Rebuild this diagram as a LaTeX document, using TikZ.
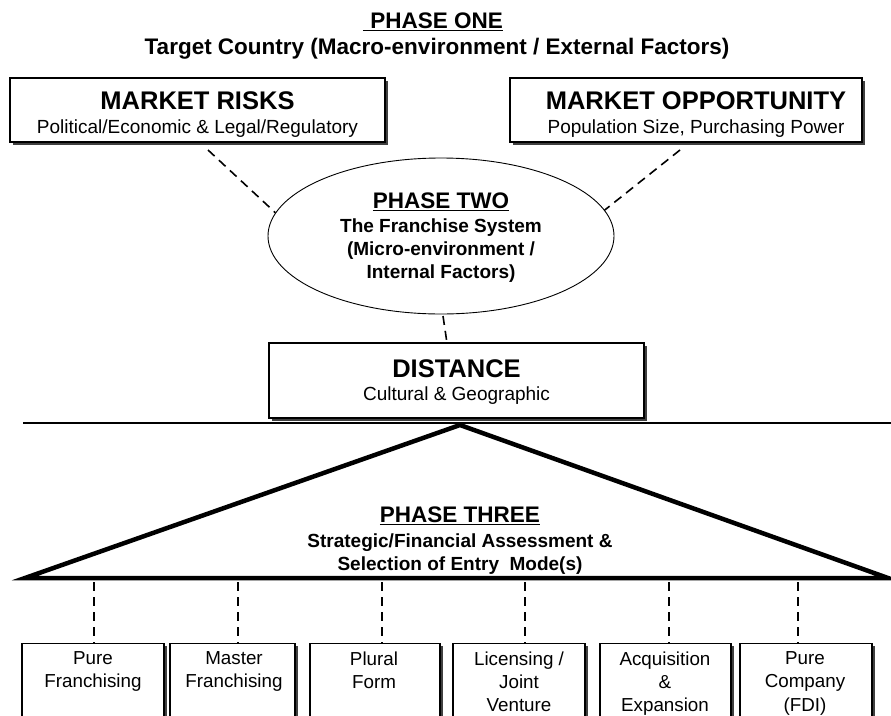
\documentclass[tikz,border=0pt]{standalone}
\usepackage{fontspec}
\setmainfont{Liberation Sans}
\usetikzlibrary{shapes.geometric,shadows}
\begin{document}
\begin{tikzpicture}[x=1pt,y=-1pt,
  shadowbox/.style={draw=black,line width=1.4pt,fill=white,
    drop shadow={shadow xshift=2.5pt,shadow yshift=-2.5pt,fill=black!75,opacity=1}},
  topbox/.style={shadowbox,minimum height=64pt,inner sep=0pt},
  modebox/.style={shadowbox,minimum height=110pt,anchor=north,inner sep=0pt},
  link/.style={line width=1.6pt,dash pattern=on 9pt off 6pt},
  big/.style={font=\fontsize{25.5}{28}\selectfont\bfseries},
  head/.style={font=\fontsize{22.5}{26}\selectfont\bfseries},
  sub/.style={font=\fontsize{19}{22}\selectfont},
  subb/.style={font=\fontsize{19}{23}\selectfont\bfseries},
  mode/.style={font=\fontsize{18.8}{23.3}\selectfont,align=center,anchor=north}]
\useasboundingbox (0,0) rectangle (891,715);
\clip (0,0) rectangle (891,715);

% Phase one heading
\node[head] (p1) at (433,22) {\underline{\,\,PHASE ONE}};
\node[head] (p1sub) at (437,49) {Target Country (Macro-environment / External Factors)};

% Market boxes
\node[topbox,minimum width=375pt] (risks) at (197.5,110) {};
\node[big] (riskst) at (197.5,101) {MARKET RISKS};
\node[sub] (riskss) at (197.5,129) {Political/Economic \& Legal/Regulatory};
\node[topbox,minimum width=352pt] (opp) at (686,110) {};
\node[big] (oppt) at (696,101) {MARKET OPPORTUNITY};
\node[sub] (opps) at (696,129) {Population Size, Purchasing Power};

% Phase two ellipse
\node[ellipse,draw=black,line width=0.9pt,minimum width=346pt,minimum height=156pt,inner sep=0pt] (p2) at (441,236) {};
\node[head] (p2t) at (441,202) {\underline{PHASE TWO}};
\node[subb,align=center,anchor=north] (p2s) at (441,215.5) {The Franchise System\\(Micro-environment /\\Internal Factors)};

% Distance box
\node[shadowbox,minimum width=375pt,minimum height=75pt,inner sep=0pt] (dist) at (456.5,380.5) {};
\node[big] (distt) at (456.5,369) {DISTANCE};
\node[sub] (dists) at (456.5,396) {Cultural \& Geographic};

% Dashed links of the upper part
\coordinate (rk) at (208,150);
\coordinate (op) at (680,150);
\coordinate (p2b) at (443,316);
\coordinate (dtop) at (447,343);
\draw[link] (rk) -- (p2.172);
\draw[link] (op) -- (p2.9);
\draw[link] (p2b) -- (dtop);

% Divider and phase three triangle
\coordinate (hl) at (23,423);
\coordinate (hr) at (891,423);
\draw[line width=1.6pt] (hl) -- (hr);
\coordinate (apex) at (460,425);
\coordinate (bl) at (25,578);
\coordinate (br) at (888,578);
\draw[line width=4.5pt,line join=miter] (apex) -- (br) -- (bl) -- cycle;
\node[head] (p3t) at (460,516) {\underline{PHASE THREE}};
\node[subb,align=center,anchor=north] (p3s) at (460,530) {Strategic/Financial Assessment \&\\Selection of Entry\ \ Mode(s)};

% Entry mode boxes
\node[modebox,minimum width=142pt] (m1) at (93,643) {};
\node[modebox,minimum width=125pt] (m2) at (232.5,643) {};
\node[modebox,minimum width=130pt] (m3) at (375,643) {};
\node[modebox,minimum width=132pt] (m4) at (519,643) {};
\node[modebox,minimum width=131pt] (m5) at (665.5,643) {};
\node[modebox,minimum width=132pt] (m6) at (806,643) {};
\node[mode] (m1t) at (93,648) {Pure\\Franchising};
\node[mode] (m2t) at (234,648) {Master\\Franchising};
\node[mode] (m3t) at (374,648) {Plural\\Form};
\node[mode] (m4t) at (519,648) {Licensing /\\Joint\\Venture};
\node[mode] (m5t) at (665,648) {Acquisition\\\&\\Expansion};
\node[mode] (m6t) at (805,648) {Pure\\Company\\(FDI)};

% Dashed links from the triangle base down to the boxes
\foreach \i/\x in {1/94,2/238,3/382,4/525,5/669,6/798}{
  \coordinate (d\i) at (\x,582);
  \draw[link] (d\i) -- (d\i |- m\i.north);
}
\end{tikzpicture}
\end{document}
